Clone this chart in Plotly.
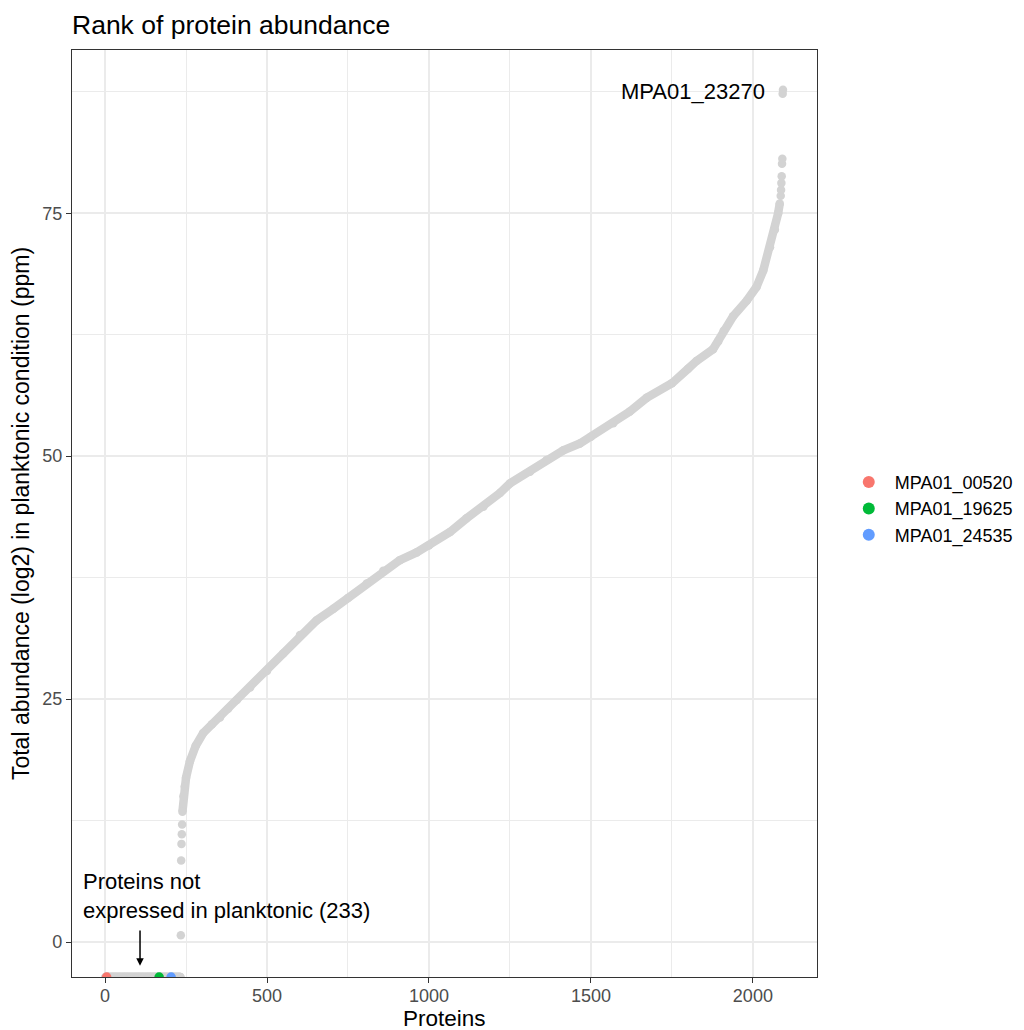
import plotly.graph_objects as go

# ---------------- data ----------------
N_NOT_EXPRESSED = 233
not_expressed_ranks = list(range(1, N_NOT_EXPRESSED + 1))

# sparse points at the start of the expressed proteins
low_ranks = [234, 235, 236, 237, 238]
low_values = [0.7, 8.4, 10.1, 11.1, 12.1]

# dense part of the ranked curve
curve_ranks = [239, 242, 246, 250, 262, 280, 303, 330, 355, 380, 407, 448, 500, 550,
               602, 653, 705, 750, 808, 859, 910, 962, 1000, 1065, 1116, 1168, 1219,
               1250, 1312, 1363, 1415, 1466, 1500, 1569, 1620, 1672, 1750, 1800, 1826,
               1877, 1893, 1910, 1939, 1981, 2011, 2032, 2053, 2068, 2078, 2083]
curve_values = [13.4, 15.0, 16.0, 16.9, 18.6, 20.2, 21.5, 22.4, 23.1, 24.0, 24.9, 26.2,
                27.9, 29.7, 31.6, 33.1, 34.3, 35.4, 36.9, 38.2, 39.3, 40.1, 40.8, 42.2,
                43.6, 44.8, 46.2, 47.2, 48.4, 49.6, 50.6, 51.3, 52.0, 53.4, 54.6, 56.0,
                57.5, 59.0, 59.8, 61.0, 61.8, 62.9, 64.4, 66.0, 67.4, 69.1, 71.5, 73.3,
                75.0, 76.0]

# sparse points at the top
high_ranks = [2086, 2087, 2088, 2089, 2090, 2091, 2092, 2093]
high_values = [76.8, 77.4, 78.1, 78.8, 80.1, 80.6, 87.3, 87.7]

# highlighted proteins (all not expressed -> drawn at the panel floor)
highlight_names = ["MPA01_00520", "MPA01_19625", "MPA01_24535"]
highlight_ranks = [5, 167, 204]
highlight_colors = ["#F8766D", "#00BA38", "#619CFF"]

top_label = "MPA01_23270"
top_label_rank = 2045
top_label_value = 87.5

X_RANGE = [-102, 2198]
Y_RANGE = [-3.6, 91.8]
x_ticks = [0, 500, 1000, 1500, 2000]
y_ticks = [0, 25, 50, 75]

GRAY = "#D3D3D3"
FONT = "Liberation Sans, Arial, sans-serif"
MS = 8.5

floor = Y_RANGE[0]

fig = go.Figure()

fig.add_trace(go.Scatter(
    x=not_expressed_ranks, y=[floor] * len(not_expressed_ranks), mode="markers",
    marker=dict(color=GRAY, size=MS), showlegend=False, cliponaxis=True, hoverinfo="skip"))

fig.add_trace(go.Scatter(
    x=low_ranks, y=low_values, mode="markers",
    marker=dict(color=GRAY, size=MS), showlegend=False))

fig.add_trace(go.Scatter(
    x=curve_ranks, y=curve_values, mode="lines+markers",
    line=dict(color=GRAY, width=MS, shape="linear"),
    marker=dict(color=GRAY, size=MS), showlegend=False))

fig.add_trace(go.Scatter(
    x=high_ranks, y=high_values, mode="markers",
    marker=dict(color=GRAY, size=MS), showlegend=False))

for name, r, c in zip(highlight_names, highlight_ranks, highlight_colors):
    fig.add_trace(go.Scatter(
        x=[r], y=[floor], mode="markers", name=name,
        marker=dict(color=c, size=MS + 1), cliponaxis=True, showlegend=True))

fig.add_annotation(x=top_label_rank, y=top_label_value, text=top_label, showarrow=False,
                   xanchor="right", yanchor="middle", font=dict(size=22, color="black", family=FONT))

fig.add_annotation(x=-73, y=4.7, text="Proteins not<br>expressed in planktonic (233)",
                   showarrow=False, xanchor="left", yanchor="middle", align="left",
                   font=dict(size=22, color="black", family=FONT))

fig.add_annotation(x=108, y=-2.45, ax=108, ay=1.35, axref="x", ayref="y", text="",
                   showarrow=True, arrowhead=2, arrowsize=1, arrowwidth=1.5,
                   arrowcolor="black", standoff=0, startstandoff=0)

# x-axis title placed as paper annotation (matches reference spacing)
fig.add_annotation(x=0.5, xref="paper", y=-41 / 927, yref="paper", text="Proteins",
                   showarrow=False, xanchor="center", yanchor="middle",
                   font=dict(size=22.5, color="black", family=FONT))

axis_common = dict(
    showline=True, mirror=True, linecolor="#333333", linewidth=1.2,
    ticks="outside", ticklen=5, tickwidth=1.2, tickcolor="#333333",
    tickfont=dict(size=18, color="#4D4D4D", family=FONT),
    showgrid=True, gridcolor="#EBEBEB", gridwidth=1.6, zeroline=False,
)

fig.update_xaxes(
    range=X_RANGE, tickvals=x_ticks, ticklabelstandoff=-3,
    minor=dict(tickvals=[250, 750, 1250, 1750], showgrid=True, gridcolor="#EBEBEB", gridwidth=1.0, ticks=""),
    **axis_common)
fig.update_yaxes(
    range=Y_RANGE, tickvals=y_ticks,
    minor=dict(tickvals=[12.5, 37.5, 62.5, 87.5], showgrid=True, gridcolor="#EBEBEB", gridwidth=1.0, ticks=""),
    title=dict(text="Total abundance (log2) in planktonic condition (ppm)",
               font=dict(size=23, color="black", family=FONT), standoff=6),
    **axis_common)

fig.update_layout(
    width=1024, height=1030,
    margin=dict(l=72, r=207, t=50, b=53, autoexpand=False),
    paper_bgcolor="white", plot_bgcolor="white",
    font=dict(family=FONT, color="black"),
    title=dict(text="Rank of protein abundance", x=72 / 1024, xanchor="left",
               y=1 - 25 / 1030, yanchor="middle",
               font=dict(size=26.5, color="black", family=FONT)),
    legend=dict(x=1.0346, xanchor="left", y=0.505, yanchor="middle",
                font=dict(size=18, color="black", family=FONT),
                bgcolor="rgba(0,0,0,0)", itemsizing="constant", itemwidth=42),
    showlegend=True,
)

fig.write_html("out.html", config={"displayModeBar": False},
               post_script="document.body.style.margin='0px';document.body.style.overflow='hidden';")
